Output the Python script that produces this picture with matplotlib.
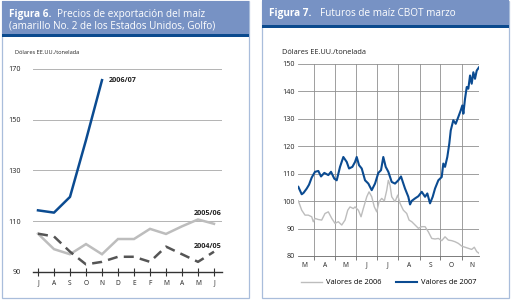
import matplotlib
matplotlib.use('Agg')
import matplotlib.pyplot as plt
from matplotlib.patches import Rectangle

plt.rcParams['font.family'] = ['Open Sans', 'DejaVu Sans']

W, H = 511, 302

# --- Figura 6 data (monthly, July -> June) ---
months_6 = ['J', 'A', 'S', 'O', 'N', 'D', 'E', 'F', 'M', 'A', 'M', 'J']
price_0607 = [114.3, 113.4, 119.6, 142.0, 165.6]
price_0506 = [105.1, 99.0, 97.0, 101.0, 97.0, 103.0, 103.0, 107.0, 105.0, 108.0, 110.7, 109.0]
price_0405 = [105.1, 104.0, 98.0, 93.0, 94.0, 96.0, 96.0, 94.0, 100.0, 97.0, 94.0, 98.0]

# --- Figura 7 data (days counted from 1 March) ---
month_starts_7 = [31, 61, 92, 122, 153, 184, 214, 245]
month_mids_7 = [16, 46, 76.5, 107, 137.5, 168.5, 199, 229.5, 260]
months_7 = ['M', 'A', 'M', 'J', 'J', 'A', 'S', 'O', 'N']

days_2007 = [7.8, 12.7, 15.3, 20, 23.3, 27.2, 32, 36.8, 40.7, 45.5, 51.3, 55.2, 60, 63.5,
             68.3, 73.1, 78, 81.4, 86.2, 90.1, 92.5, 95.9, 99.8, 104.6, 109.4, 114.3, 119.1,
             123.9, 127.8, 131.1, 134.6, 138.4, 143.3, 148.1, 152.9, 156.8, 160.2, 162.6,
             167.4, 169.9, 172.4, 177.2, 182, 186.9, 191.7, 195, 198.9, 202.8, 206.2, 211,
             215.9, 218.2, 220.7, 224, 226.9, 229, 232.7, 236.2, 240, 243.5, 245.8, 247.3,
             249.7, 252.2, 254.5, 257, 259.4, 261.8, 264.2, 266.7, 270]
vals_2007 = [105.2, 102.5, 103.0, 104.6, 106.0, 108.6, 110.7, 111.0, 109.0, 110.3, 109.5,
             110.7, 108.2, 107.6, 112.5, 116.1, 114.3, 111.9, 112.5, 114.3, 116.1, 113.1,
             111.9, 107.6, 106.4, 104.0, 106.4, 110.3, 111.3, 116.1, 112.5, 110.7, 107.0,
             106.4, 107.6, 109.0, 106.4, 104.6, 101.6, 98.8, 100.1, 101.0, 101.8, 103.4,
             101.6, 102.8, 99.2, 101.6, 104.6, 107.6, 108.8, 113.7, 112.5, 116.1, 121.0,
             125.8, 129.5, 128.2, 130.7, 133.1, 134.9, 131.9, 137.3, 141.6, 141.0, 145.8,
             142.8, 147.0, 144.6, 147.6, 148.8]

days_2006 = [7.8, 12.7, 17.5, 22.3, 27.2, 29.5, 32, 36.8, 41.7, 46.5, 51.3, 56.3, 61, 65.8,
             70.8, 75.6, 79.5, 82.8, 87.6, 90.1, 94.9, 98.8, 102.1, 107.1, 110.4, 114.3,
             118.1, 121.6, 124.9, 128.8, 132.6, 136.1, 138.4, 140.9, 143.3, 148.1, 152,
             155.4, 160.2, 165.1, 168.5, 172.4, 177.2, 182, 186.9, 191.7, 196.5, 201.4,
             206.2, 211, 215.9, 220.7, 225.5, 230.4, 235.2, 240, 245, 249.7, 254.5, 259.4,
             263.2, 266.7, 270]
vals_2006 = [100.1, 96.7, 94.9, 94.9, 94.3, 92.5, 93.7, 93.3, 93.1, 95.5, 96.1, 93.7, 91.9,
             92.5, 91.3, 93.1, 96.7, 97.9, 97.3, 97.9, 96.7, 94.3, 97.3, 101.6, 103.4, 101.6,
             97.9, 96.1, 99.8, 101.0, 100.1, 104.0, 107.6, 105.8, 101.6, 99.8, 102.2, 99.2,
             96.7, 95.5, 93.1, 92.5, 91.3, 90.1, 90.7, 90.7, 88.8, 86.4, 86.2, 86.4, 85.6,
             87.0, 85.8, 85.6, 85.2, 84.6, 83.6, 83.2, 82.8, 82.4, 83.2, 81.6, 81.0]

HEADER = '#7792c4'
STRIPE = '#0b4a8e'
BORDER = '#a9bddb'
BLUE = '#0b4b91'
LGRAY = '#bdbdbd'
DGRAY = '#555555'
TXT = '#222222'


def fx(x):
    return x / W


def fy(y):
    return 1 - y / H


def fig_rect(fig, x0, y0, x1, y1, **kw):
    fig.patches.append(Rectangle((fx(x0), fy(y1)), fx(x1) - fx(x0), fy(y0) - fy(y1),
                                 transform=fig.transFigure, figure=fig, zorder=-5, **kw))


def add_axes_px(fig, x0, y0, x1, y1):
    ax = fig.add_axes([fx(x0), fy(y1), fx(x1) - fx(x0), fy(y0) - fy(y1)])
    ax.patch.set_alpha(0)
    return ax


fig = plt.figure(figsize=(W / 100, H / 100), dpi=100)

# panels
for (x0, x1, hb) in [(1.5, 248.5, 33.5), (261.5, 508.5, 24.5)]:
    fig_rect(fig, x0, 1, x1, 298, facecolor='white', edgecolor=BORDER, linewidth=0.9)
    fig_rect(fig, x0, 0.5, x1, hb, facecolor=HEADER, edgecolor='none')
    fig_rect(fig, x0, hb, x1, hb + 3.5, facecolor=STRIPE, edgecolor='none')

# titles
fig.text(fx(9), fy(14), 'Figura 6.', color='white', fontsize=7.2, fontweight='bold', va='center')
fig.text(fx(57), fy(14), 'Precios de exportación del maíz', color='white', fontsize=7.2, va='center')
fig.text(fx(9), fy(25.5), '(amarillo No. 2 de los Estados Unidos, Golfo)', color='white',
         fontsize=7.2, va='center')
fig.text(fx(269), fy(13.5), 'Figura 7.', color='white', fontsize=7.2, fontweight='bold', va='center')
fig.text(fx(320), fy(13.5), 'Futuros de maíz CBOT marzo', color='white', fontsize=7.2, va='center')

fig.text(fx(15), fy(52), 'Dólares EE.UU./tonelada', color=TXT, fontsize=4.1, va='center')
fig.text(fx(282), fy(52), 'Dólares EE.UU./tonelada', color=TXT, fontsize=5.3, va='center')

# --- Figura 6 chart ---
ax1 = add_axes_px(fig, 33, 69, 222, 272)
x6 = list(range(len(months_6)))
ax1.plot(x6, price_0506, color=LGRAY, linewidth=1.8, solid_joinstyle='miter')
ax1.plot(x6, price_0405, color=DGRAY, linewidth=1.8, dashes=(4, 2.5))
ax1.plot(x6[:len(price_0607)], price_0607, color=BLUE, linewidth=1.8)
ax1.set_xlim(-0.3125, 11.5)
ax1.set_ylim(90, 170)
ax1.set_yticks([90, 110, 130, 150, 170])
ax1.set_xticks(x6)
ax1.set_xticklabels(months_6)
ax1.grid(axis='y', color='#b3b3b3', linewidth=0.7)
ax1.set_axisbelow(True)
for s in ['top', 'right', 'left']:
    ax1.spines[s].set_visible(False)
ax1.spines['bottom'].set_color('#333333')
ax1.spines['bottom'].set_linewidth(1.0)
ax1.tick_params(axis='y', length=0, pad=8.7, labelsize=5.2, labelcolor=TXT)
ax1.tick_params(axis='x', direction='inout', length=6, width=0.8, color='#333333',
                pad=2.5, labelsize=4.8, labelcolor=TXT)
ax1.text(4.45, 165.5, '2006/07', fontsize=5.2, fontweight='bold', color=TXT, va='center')
ax1.text(11.5, 113.2, '2005/06', fontsize=5.2, fontweight='bold', color=TXT, va='center', ha='right')
ax1.text(11.5, 100.0, '2004/05', fontsize=5.2, fontweight='bold', color=TXT, va='center', ha='right')

# --- Figura 7 chart ---
ax2 = add_axes_px(fig, 298, 64, 479, 256)
ax2.plot(days_2006, vals_2006, color=LGRAY, linewidth=1.0, label='Valores de 2006')
ax2.plot(days_2007, vals_2007, color=BLUE, linewidth=1.5, label='Valores de 2007')
ax2.set_xlim(7.3, 270)
ax2.set_ylim(80, 150)
ax2.set_yticks(range(80, 151, 10))
ax2.set_xticks(month_starts_7)
ax2.set_xticklabels([])
ax2.set_xticks(month_mids_7, minor=True)
ax2.set_xticklabels(months_7, minor=True)
ax2.grid(axis='both', which='major', color='#8f8f8f', linewidth=0.6)
ax2.set_axisbelow(True)
for s in ['top', 'right', 'left']:
    ax2.spines[s].set_visible(False)
ax2.spines['bottom'].set_color('#666666')
ax2.spines['bottom'].set_linewidth(0.6)
ax2.tick_params(axis='y', length=0, pad=2.2, labelsize=5.2, labelcolor=TXT)
ax2.tick_params(axis='x', which='major', length=3, width=0.6, color='#666666')
ax2.tick_params(axis='x', which='minor', length=0, pad=4, labelsize=4.8, labelcolor=TXT)
ax2.legend(loc='upper center', bbox_to_anchor=(0.5, -0.085), ncol=2, frameon=False,
           fontsize=5.4, handlelength=2.8, columnspacing=2.0, handletextpad=0.5)

fig.savefig('out.png', dpi=100)
